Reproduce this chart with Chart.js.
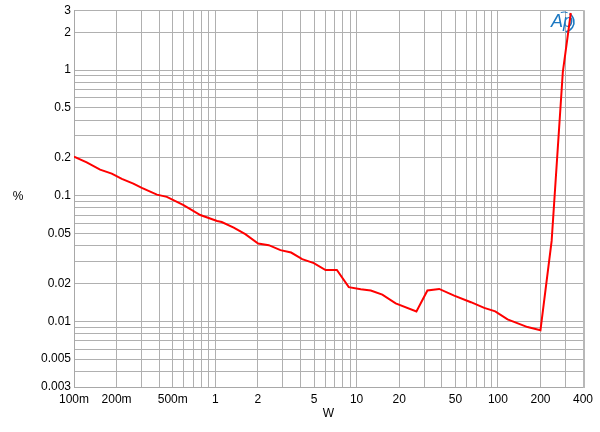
<!DOCTYPE html>
<html>
<head>
<meta charset="utf-8">
<script src="https://cdn.jsdelivr.net/npm/chart.js@4/dist/chart.umd.min.js"></script>
<style>
    html, body { margin: 0; padding: 0; background: #fff; }
    #wrap { width: 600px; height: 432px; position: relative; }
</style>
</head>
<body>
<div id="wrap"><canvas id="thdChart"></canvas></div>
<script>
// THD+N vs output power (W, %)
const powerW = [0.1, 0.123, 0.153, 0.185, 0.218, 0.263, 0.302, 0.386, 0.454, 0.596, 0.783, 1.03,
    1.11, 1.35, 1.63, 2.01, 2.39, 2.89, 3.44, 4.12, 4.98, 6.03, 7.25, 8.8, 10.7, 12.6, 15.2,
    18.9, 26.5, 31.7, 38.4, 49, 64.4, 80, 95.7, 117, 162, 200, 240, 288, 328];
const thdPct = [0.205, 0.1845, 0.1615, 0.150, 0.136, 0.125, 0.1156, 0.102, 0.098, 0.0843, 0.0702, 0.063,
    0.0618, 0.0557, 0.0494, 0.0416, 0.0404, 0.0369, 0.0353, 0.0313, 0.0291, 0.0256, 0.0256, 0.0187, 0.018, 0.0176, 0.0163,
    0.0139, 0.012, 0.0176, 0.0181, 0.016, 0.0142, 0.0128, 0.012, 0.01035, 0.0090, 0.0085, 0.0437, 0.97, 2.85];

// grid positions and labelled ticks
const xGrid = [0.1, 0.2, 0.3, 0.4, 0.5, 0.6, 0.7, 0.8, 0.9, 1, 2, 3, 4, 5, 6, 7, 8, 9,
    10, 20, 30, 40, 50, 60, 70, 80, 90, 100, 200, 300, 400];
const xTickVals = [0.1, 0.2, 0.5, 1, 2, 5, 10, 20, 50, 100, 200, 400];
const xTickLabels = ['100m', '200m', '500m', '1', '2', '5', '10', '20', '50', '100', '200', '400'];

const yGrid = [0.003, 0.004, 0.005, 0.006, 0.007, 0.008, 0.009, 0.01, 0.02, 0.03, 0.04, 0.05, 0.06, 0.07, 0.08, 0.09,
    0.1, 0.2, 0.3, 0.4, 0.5, 0.6, 0.7, 0.8, 0.9, 1, 2, 3];
const yTickVals = [0.003, 0.005, 0.01, 0.02, 0.05, 0.1, 0.2, 0.5, 1, 2, 3];
const yTickLabels = ['0.003', '0.005', '0.01', '0.02', '0.05', '0.1', '0.2', '0.5', '1', '2', '3'];

const FONT = "'Liberation Sans', Arial, sans-serif";

const points = powerW.map((w, i) => ({ x: w, y: thdPct[i] }));

function labelFor(value, vals, labels) {
    const i = vals.findIndex(v => Math.abs(v - value) / v < 1e-6);
    return i >= 0 ? labels[i] : '';
}

// extra drawing: axis titles, right frame edge, AP logo
const decorPlugin = {
    id: 'decor',
    beforeDatasetsDraw(chart) {
        const ctx = chart.ctx;
        const a = chart.chartArea;
        const cx = a.right - 19, cy = 22;
        ctx.save();
        ctx.fillStyle = '#1b78c2';
        ctx.strokeStyle = '#1b78c2';
        ctx.font = "italic 18px " + FONT;
        ctx.textAlign = 'center';
        ctx.textBaseline = 'middle';
        ctx.fillText('Ap', cx - 2, cy);
        ctx.lineWidth = 1.6;
        ctx.beginPath();
        ctx.arc(cx, cy, 10, -1.0, 1.4);
        ctx.stroke();
        ctx.lineWidth = 1;
        ctx.beginPath();
        ctx.arc(cx, cy, 10, -1.9, -1.2);
        ctx.stroke();
        ctx.restore();
    },
    afterDraw(chart) {
        const ctx = chart.ctx;
        const a = chart.chartArea;
        ctx.save();
        ctx.strokeStyle = '#b8b8b8';
        ctx.lineWidth = 2;
        ctx.beginPath();
        ctx.moveTo(a.right + 1, a.top);
        ctx.lineTo(a.right + 1, a.bottom + 1);
        ctx.stroke();
        ctx.fillStyle = '#000';
        ctx.font = "12px " + FONT;
        ctx.textAlign = 'center';
        ctx.textBaseline = 'middle';
        ctx.fillText('%', 18, 197);
        ctx.fillText('W', (a.left + a.right) / 2, 414);
        ctx.restore();
    }
};

new Chart(document.getElementById('thdChart'), {
    type: 'line',
    data: {
        datasets: [{
            label: 'THD+N',
            data: points,
            borderColor: '#ff0000',
            borderWidth: 2,
            pointRadius: 0,
            tension: 0,
            fill: false
        }]
    },
    options: {
        responsive: true,
        maintainAspectRatio: false,
        animation: false,
        layout: { padding: { left: 0, top: 8, right: 17, bottom: 0 } },
        plugins: {
            legend: { display: false },
            tooltip: { enabled: false }
        },
        scales: {
            x: {
                type: 'logarithmic',
                min: 0.1,
                max: 400,
                afterBuildTicks: function (scale) {
                    scale.ticks = xGrid.map(v => ({ value: v }));
                },
                afterFit: function (scale) {
                    scale.height = 45;
                },
                ticks: {
                    autoSkip: false,
                    maxRotation: 0,
                    padding: 5,
                    color: '#000',
                    font: { family: FONT, size: 12 },
                    callback: function (value) {
                        return labelFor(value, xTickVals, xTickLabels);
                    }
                },
                grid: { color: '#b0b0b0', lineWidth: 1, drawTicks: false },
                border: { display: true, color: '#a8a8a8', width: 1 }
            },
            y: {
                type: 'logarithmic',
                min: 0.003,
                max: 3,
                afterBuildTicks: function (scale) {
                    scale.ticks = yGrid.map(v => ({ value: v }));
                },
                afterFit: function (scale) {
                    scale.width = 74;
                },
                ticks: {
                    autoSkip: false,
                    padding: 3,
                    color: '#000',
                    font: { family: FONT, size: 12 },
                    callback: function (value) {
                        return labelFor(value, yTickVals, yTickLabels);
                    }
                },
                grid: { color: '#b0b0b0', lineWidth: 1, drawTicks: false },
                border: { display: true, color: '#a8a8a8', width: 1 }
            }
        }
    },
    plugins: [decorPlugin]
});
</script>
</body>
</html>
